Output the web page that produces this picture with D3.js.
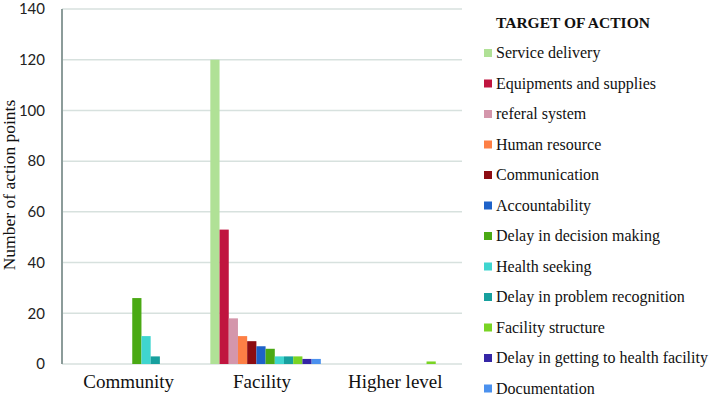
<!DOCTYPE html>
<html lang="en">
<head>
  <meta charset="UTF-8">
  <title>Target of action</title>
  <script src="https://d3js.org/d3.v7.min.js"></script>
  <style>
    body { margin: 0; background: #fff; }
    svg { display: block; }
    .serif { font-family: "Liberation Serif", "Times New Roman", Times, "DejaVu Serif", serif; }
  </style>
</head>
<body>
<script>
  // data
  const levels = ["Community", "Facility", "Higher level"];
  const targets = [
    "Service delivery", "Equipments and supplies", "referal system", "Human resource",
    "Communication", "Accountability", "Delay in decision making", "Health seeking",
    "Delay in problem recognition", "Facility structure", "Delay in getting to health facility",
    "Documentation"
  ];
  const colors = ["#b0e196", "#c0153f", "#d496ab", "#fd7f45", "#8c0c12", "#1e62c9",
    "#4aa914", "#3fd5cf", "#17a09e", "#79d424", "#3526a6", "#4b91ee"];
  const community = [0, 0, 0, 0, 0, 0, 26, 11, 3, 0, 0, 0];
  const facility = [120, 53, 18, 11, 9, 7, 6, 3, 3, 3, 2, 2];
  const higher = [0, 0, 0, 0, 0, 0, 0, 0, 0, 1, 0, 0];
  const yTicks = [0, 20, 40, 60, 80, 100, 120, 140];

  const values = [community, facility, higher];
  const rows = [];
  levels.forEach((lv, i) => {
    targets.forEach((t, j) => rows.push({ level: lv, target: t, value: values[i][j] }));
  });

  const width = 709, height = 397;
  const margin = { top: 9, right: 247, bottom: 33, left: 62 };

  const svg = d3.select("body").append("svg")
    .attr("width", width)
    .attr("height", height);

  const x0 = d3.scaleBand()
    .domain(levels)
    .range([margin.left, width - margin.right]);

  const x1 = d3.scaleBand()
    .domain(targets)
    .range([15, 15 + 110.5]);

  const y = d3.scaleLinear()
    .domain([0, 140])
    .range([height - margin.bottom, margin.top]);

  const color = d3.scaleOrdinal().domain(targets).range(colors);

  // gridlines
  svg.append("g")
    .selectAll("line")
    .data(yTicks)
    .join("line")
    .attr("x1", margin.left)
    .attr("x2", width - margin.right)
    .attr("y1", d => y(d))
    .attr("y2", d => y(d))
    .attr("stroke", "#d7e1de")
    .attr("stroke-width", 1.5);

  // y tick labels
  svg.append("g")
    .selectAll("text")
    .data(yTicks)
    .join("text")
    .attr("x", 45)
    .attr("y", d => y(d))
    .attr("dy", "0.35em")
    .attr("text-anchor", "end")
    .style("font-family", "Lato, 'Open Sans', sans-serif")
    .style("font-size", "15px")
    .style("fill", "#222")
    .text(d => d);

  // bars
  svg.append("g")
    .selectAll("rect")
    .data(rows.filter(d => d.value > 0))
    .join("rect")
    .attr("x", d => x0(d.level) + x1(d.target))
    .attr("y", d => y(d.value))
    .attr("width", x1.bandwidth())
    .attr("height", d => y(0) - y(d.value))
    .attr("fill", d => color(d.target));

  // y axis line
  svg.append("line")
    .attr("x1", margin.left)
    .attr("x2", margin.left)
    .attr("y1", y(140))
    .attr("y2", y(0))
    .attr("stroke", "#8c9c9a")
    .attr("stroke-width", 2);

  // category labels
  svg.append("g")
    .selectAll("text")
    .data(levels)
    .join("text")
    .attr("class", "serif")
    .attr("x", d => x0(d) + x0.bandwidth() / 2)
    .attr("y", 388)
    .attr("text-anchor", "middle")
    .style("font-size", "19px")
    .style("fill", "#111")
    .text(d => d);

  // y axis title
  svg.append("text")
    .attr("class", "serif")
    .attr("transform", "translate(15," + 185 + ") rotate(-90)")
    .attr("text-anchor", "middle")
    .style("font-size", "17.5px")
    .style("fill", "#111")
    .text("Number of action points");

  // legend
  const legend = svg.append("g");
  legend.append("text")
    .attr("class", "serif")
    .attr("x", 496)
    .attr("y", 28)
    .style("font-weight", "bold")
    .style("font-size", "15.5px")
    .style("fill", "#111")
    .text("TARGET OF ACTION");

  const item = legend.selectAll("g.item")
    .data(targets)
    .join("g")
    .attr("class", "item")
    .attr("transform", (d, i) => "translate(0," + (58 + i * 30.5) + ")");

  item.append("rect")
    .attr("x", 484)
    .attr("y", -9)
    .attr("width", 8)
    .attr("height", 8)
    .attr("fill", d => color(d));

  item.append("text")
    .attr("class", "serif")
    .attr("x", 496)
    .attr("y", 0)
    .style("font-size", "16px")
    .style("fill", "#111")
    .text(d => d);
</script>
</body>
</html>
